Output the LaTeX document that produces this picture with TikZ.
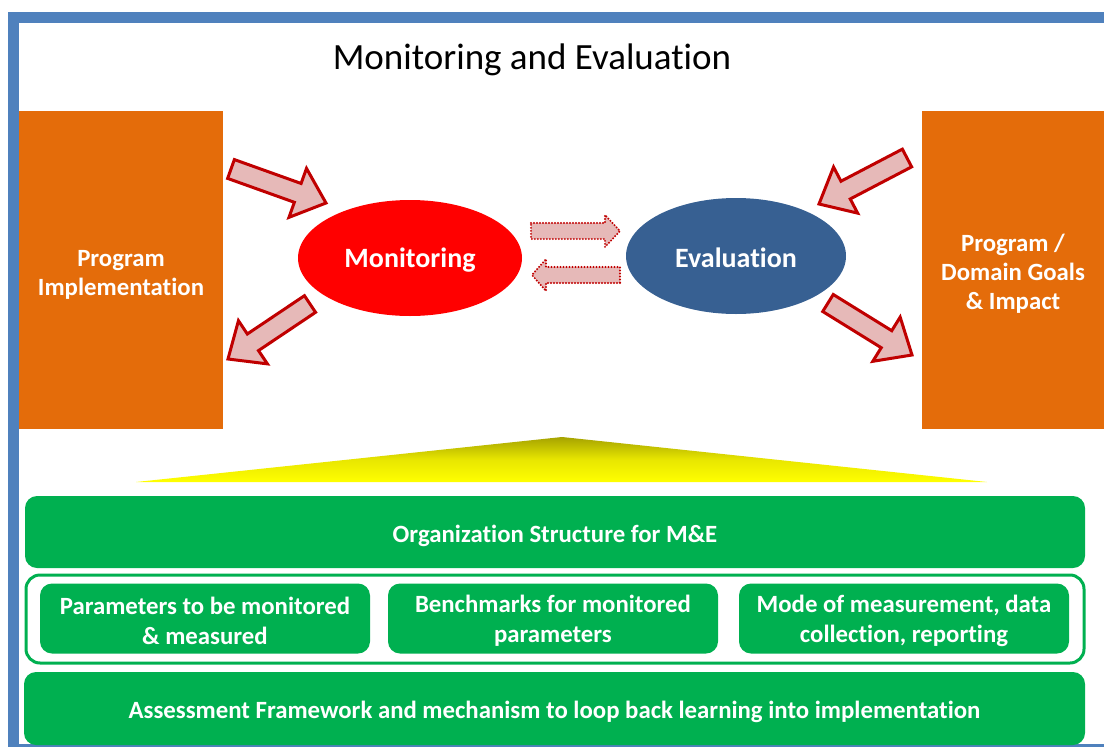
\documentclass[tikz,border=0pt]{standalone}
\usepackage{fontspec}
\setmainfont{Carlito}[Ligatures=NoCommon]
\usetikzlibrary{calc,shapes.geometric}
\definecolor{frameblue}{HTML}{4F81BD}
\definecolor{orangebox}{HTML}{E46C0A}
\definecolor{monred}{HTML}{FF0000}
\definecolor{evalblue}{HTML}{376092}
\definecolor{arrowfill}{HTML}{E6B9B8}
\definecolor{arrowline}{HTML}{C00000}
\definecolor{boxgreen}{HTML}{00B050}
\definecolor{olivetop}{HTML}{A6A300}
\newcommand\blockarrow[6]{%
  \draw[#1] let \p1=(#2), \p2=(#3), \n1={atan2(\y2-\y1,\x2-\x1)},
    \n2={veclen(\x2-\x1,\y2-\y1)-#6} in
    ($(\p1)+({\n1+90}:#4)$) -- ($(\p1)+({\n1}:\n2)+({\n1+90}:#4)$)
    -- ($(\p1)+({\n1}:\n2)+({\n1+90}:#5)$) -- (\p2)
    -- ($(\p1)+({\n1}:\n2)+({\n1-90}:#5)$) -- ($(\p1)+({\n1}:\n2)+({\n1-90}:#4)$)
    -- ($(\p1)+({\n1-90}:#4)$) -- cycle;}
\newcommand\strutup[1]{\rule{0pt}{#1}}
\tikzset{
  lower/.style={execute at begin node={\rule{0pt}{#1}}},
  obox/.style={fill=orangebox, inner sep=0pt, text=white, align=center,
    font=\bfseries\fontsize{24.8}{29}\selectfont},
  oval/.style={ellipse, inner sep=0pt, text=white, font=\bfseries\fontsize{28}{32}\selectfont},
  gbox/.style={fill=boxgreen, rounded corners=12pt, inner sep=0pt, text=white, align=center,
    font=\bfseries\fontsize{24.8}{30}\selectfont},
  bigarrow/.style={fill=arrowfill, draw=arrowline, line width=3pt, line join=miter},
  dotarrow/.style={fill=arrowfill, draw=arrowline, line width=2.2pt, dash pattern=on 0pt off 3pt, line cap=round}
}
\begin{document}
\begin{tikzpicture}[x=1pt,y=1pt]
\useasboundingbox (0,0) rectangle (1104,-747);
% frame
\fill[frameblue] (8,-12) rectangle (19,-747);
\fill[frameblue] (8,-12) rectangle (1104,-23);
\fill[frameblue] (8,-744) rectangle (1104,-747);
% title
\node[font=\fontsize{37}{42}\selectfont] (title) at (532,-60) {Monitoring and Evaluation};
% orange boxes
\node[obox, minimum width=204pt, minimum height=318pt] (impl) at (121,-270) {\strutup{26.5pt}Program\\Implementation};
\node[obox, minimum width=182pt, minimum height=318pt] (goals) at (1013,-270) {\strutup{24.5pt}Program /\\Domain Goals\\\& Impact};
% ellipses
\node[oval, lower=23.5pt, fill=monred, minimum width=224pt, minimum height=116pt] (mon) at (410,-258) {Monitoring};
\node[oval, lower=22.5pt, fill=evalblue, minimum width=220pt, minimum height=116pt] (eval) at (736,-256) {Evaluation};
% arrow end points
\coordinate (a1t) at (231,-169); \coordinate (a1h) at (326,-203);
\coordinate (a2t) at (310,-304); \coordinate (a2h) at (228,-359);
\coordinate (a3t) at (907,-158); \coordinate (a3h) at (819,-204);
\coordinate (a4t) at (828,-303); \coordinate (a4h) at (912,-355);
\coordinate (d1t) at (531,-231); \coordinate (d1h) at (620,-231);
\coordinate (d2t) at (620,-275); \coordinate (d2h) at (532,-275);
\blockarrow{bigarrow}{a1t}{a1h}{10}{26}{30}
\blockarrow{bigarrow}{a2t}{a2h}{10}{26}{30}
\blockarrow{bigarrow}{a3t}{a3h}{10}{26}{30}
\blockarrow{bigarrow}{a4t}{a4h}{10}{26}{30}
\blockarrow{dotarrow}{d1t}{d1h}{8}{16}{15}
\blockarrow{dotarrow}{d2t}{d2h}{8}{16}{14}
% yellow triangle
\shade[top color=olivetop, bottom color=yellow, middle color={rgb,255:red,232;green,230;blue,0}]
  (562,-437) -- (987,-482) -- (136,-482) -- cycle;
% green boxes
\node[gbox, lower=25pt, minimum width=1060pt, minimum height=72pt] (org) at (555,-532) {Organization Structure for M\&E};
\node[draw=boxgreen, fill=white, line width=3pt, rounded corners=14pt, minimum width=1058pt, minimum height=88pt, inner sep=0pt] (group) at (555,-619) {};
\node[gbox, minimum width=330pt, minimum height=70pt] (par) at (205,-618.5) {\strutup{21.5pt}Parameters to be monitored\\\& measured};
\node[gbox, minimum width=330pt, minimum height=70pt] (bench) at (553,-618.5) {\strutup{21.5pt}Benchmarks for monitored\\parameters};
\node[gbox, minimum width=330pt, minimum height=70pt] (mode) at (904,-618.5) {\strutup{21.5pt}Mode of measurement, data\\collection, reporting};
\node[gbox, lower=25pt, minimum width=1061pt, minimum height=73pt] (assess) at (554.5,-708.5) {Assessment Framework and mechanism to loop back learning into implementation};
\end{tikzpicture}
\end{document}
